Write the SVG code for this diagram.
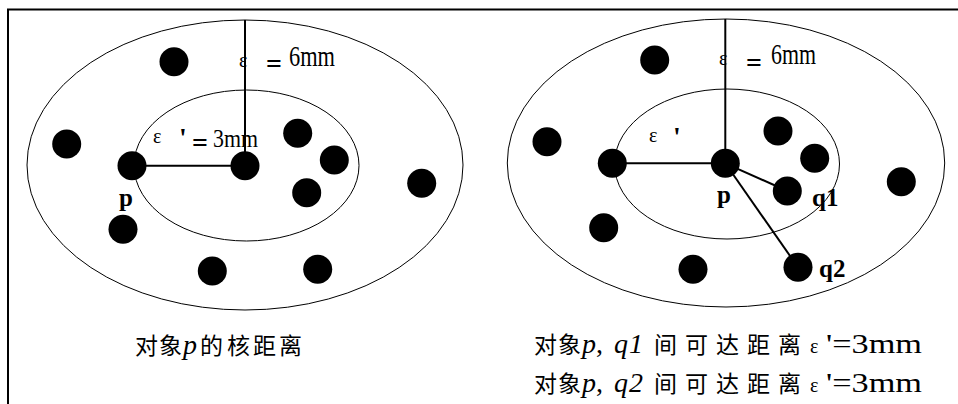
<svg xmlns="http://www.w3.org/2000/svg" width="958" height="404" viewBox="0 0 958 404">
<style>
.frame{fill:none;stroke:#000;stroke-width:2}
.ell{fill:none;stroke:#000;stroke-width:1}
.dot{fill:#000}
.ln{stroke:#000;stroke-width:2;fill:none}
.eps{font-family:"Liberation Serif","DejaVu Serif",serif;font-size:20px}
.eq{font-family:"Liberation Serif",serif;font-size:28px;font-weight:bold}
.num{font-family:"Liberation Serif",serif}
.lbl{font-family:"Liberation Serif",serif;font-weight:bold;font-size:25px}
.cjk{font-family:"Liberation Serif","Noto Sans CJK SC",serif;font-size:23px}
.it{font-style:italic;font-family:"Liberation Serif",serif;font-size:28px}
.rm{font-family:"Liberation Serif",serif;font-size:28px}
</style>
<rect class="frame" x="8" y="9.5" width="960" height="410"/>

<!-- Left diagram -->
<g id="left-outer"><ellipse class="ell" cx="245" cy="165" rx="218" ry="145"/></g>
<g id="left-inner"><ellipse class="ell" cx="246.5" cy="165.5" rx="112.5" ry="75.5"/></g>
<g id="left-connectors">
<line class="ln" x1="245" y1="20" x2="245" y2="165.7"/>
<line class="ln" x1="132" y1="165.7" x2="245" y2="165.7"/>
</g>
<g id="left-dots">
<circle class="dot" cx="174" cy="61.7" r="14.5"/>
<circle class="dot" cx="66.7" cy="144" r="14.5"/>
<circle class="dot" cx="132" cy="165.7" r="14.5"/>
<circle class="dot" cx="245" cy="165.7" r="14.5"/>
<circle class="dot" cx="297.7" cy="133.3" r="14.5"/>
<circle class="dot" cx="334.3" cy="160" r="14.5"/>
<circle class="dot" cx="306.7" cy="192.7" r="14.5"/>
<circle class="dot" cx="421.7" cy="183.3" r="14.5"/>
<circle class="dot" cx="123" cy="229.3" r="14.5"/>
<circle class="dot" cx="212.3" cy="271" r="14.5"/>
<circle class="dot" cx="317.7" cy="269.3" r="14.5"/>
</g>
<g id="left-labels">
<text class="lbl" x="126" y="206" text-anchor="middle">p</text>
<text class="eps" x="239" y="67">ε</text>
<text class="eq" x="266" y="73">=</text>
<text class="num" x="289" y="66" font-size="30" textLength="46" lengthAdjust="spacingAndGlyphs">6mm</text>
<text class="eps" x="153" y="143">ε</text>
<text class="eq" x="179" y="147" font-size="25">'</text>
<text class="eq" x="192" y="152" font-size="27">=</text>
<text class="num" x="213" y="147" font-size="26" textLength="45" lengthAdjust="spacingAndGlyphs">3mm</text>
</g>

<!-- Right diagram -->
<g id="right-outer"><ellipse class="ell" cx="726" cy="163" rx="218.7" ry="144"/></g>
<g id="right-inner"><ellipse class="ell" cx="727" cy="164" rx="112.5" ry="75"/></g>
<g id="right-connectors">
<line class="ln" x1="725.3" y1="19" x2="725.3" y2="163.3"/>
<line class="ln" x1="612.3" y1="163.3" x2="725.3" y2="163.3"/>
<line class="ln" x1="725.3" y1="163.3" x2="787.3" y2="191"/>
<line class="ln" x1="725.3" y1="163.3" x2="798" y2="267.3"/>
</g>
<g id="right-dots">
<circle class="dot" cx="654.7" cy="60" r="14.5"/>
<circle class="dot" cx="547" cy="141.7" r="14.5"/>
<circle class="dot" cx="612.3" cy="163.3" r="14.5"/>
<circle class="dot" cx="725.3" cy="163.3" r="14.5"/>
<circle class="dot" cx="778" cy="131" r="14.5"/>
<circle class="dot" cx="814.7" cy="158.3" r="14.5"/>
<circle class="dot" cx="787.3" cy="191" r="14.5"/>
<circle class="dot" cx="901.3" cy="181.7" r="14.5"/>
<circle class="dot" cx="603.7" cy="227.7" r="14.5"/>
<circle class="dot" cx="693" cy="269.3" r="14.5"/>
<circle class="dot" cx="798" cy="267.3" r="14.5"/>
</g>
<g id="right-labels">
<text class="lbl" x="724" y="203" text-anchor="middle">p</text>
<text class="lbl" x="812" y="206">q1</text>
<text class="lbl" x="819" y="277">q2</text>
<text class="eps" x="719" y="65">ε</text>
<text class="eq" x="746" y="72">=</text>
<text class="num" x="771" y="64" font-size="30" textLength="45" lengthAdjust="spacingAndGlyphs">6mm</text>
<text class="eps" x="649" y="142">ε</text>
<text class="eq" x="673" y="146" font-size="25">'</text>
</g>

<!-- Captions -->
<g id="caption-left">
<text class="cjk" y="354"><tspan x="135">对</tspan><tspan x="159">象</tspan><tspan class="it" x="183">p</tspan><tspan x="200">的</tspan><tspan x="227">核</tspan><tspan x="253">距</tspan><tspan x="279">离</tspan></text>
</g>
<g id="caption-right">
<text class="cjk" y="353"><tspan x="534">对</tspan><tspan x="558">象</tspan><tspan class="it" x="582">p</tspan><tspan class="rm" x="596">,</tspan><tspan class="it" x="614">q</tspan><tspan class="it" x="629">1</tspan><tspan x="654">间</tspan><tspan x="685">可</tspan><tspan x="716">达</tspan><tspan x="747">距</tspan><tspan x="778">离</tspan><tspan class="eps" x="810" font-size="17">ε</tspan></text>
<text class="rm" x="826" y="353" textLength="96" lengthAdjust="spacingAndGlyphs">'=3mm</text>
<text class="cjk" y="392"><tspan x="534">对</tspan><tspan x="558">象</tspan><tspan class="it" x="582">p</tspan><tspan class="rm" x="596">,</tspan><tspan class="it" x="614">q</tspan><tspan class="it" x="629">2</tspan><tspan x="654">间</tspan><tspan x="685">可</tspan><tspan x="716">达</tspan><tspan x="747">距</tspan><tspan x="778">离</tspan><tspan class="eps" x="810" font-size="17">ε</tspan></text>
<text class="rm" x="826" y="392" textLength="96" lengthAdjust="spacingAndGlyphs">'=3mm</text>
</g>
</svg>
